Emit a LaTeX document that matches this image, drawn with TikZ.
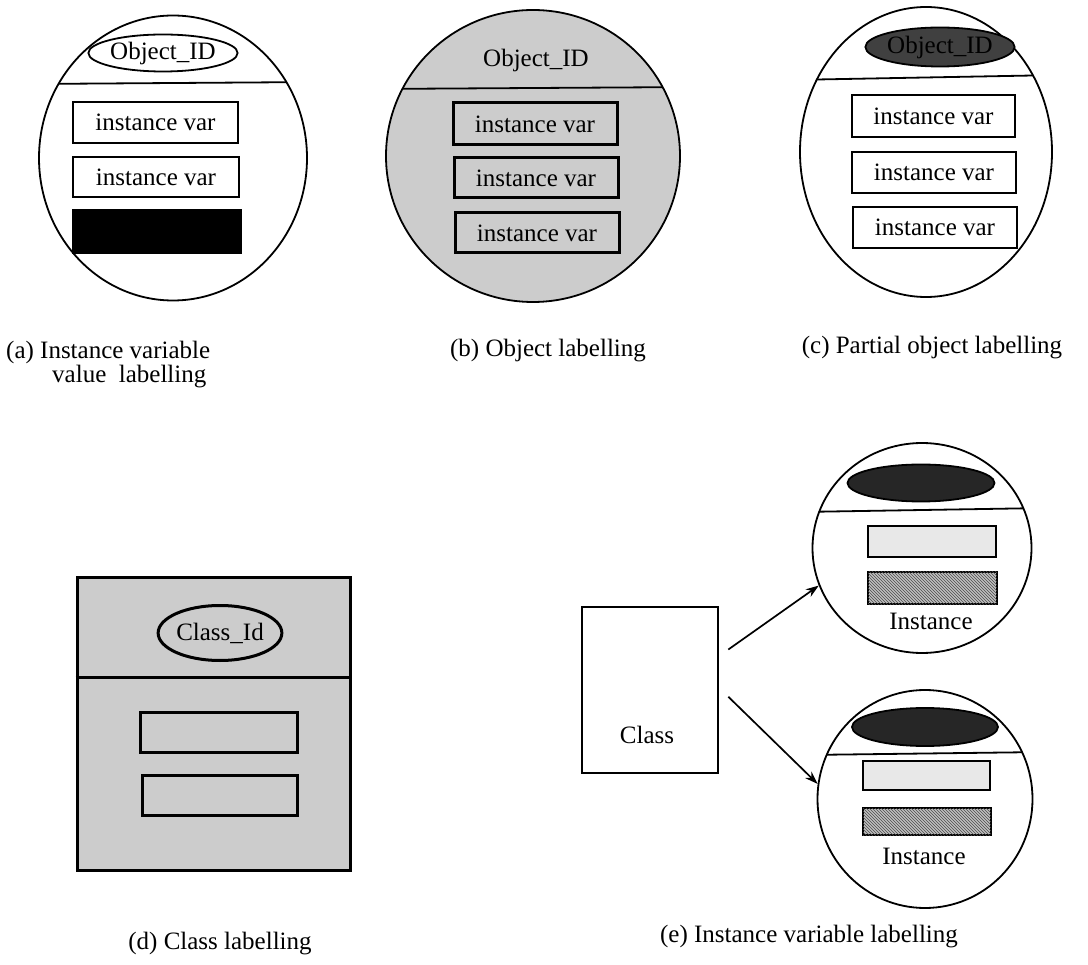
\documentclass[tikz,border=0pt]{standalone}
\usepackage{fontspec}
\setmainfont{Liberation Serif}
\usetikzlibrary{shapes.geometric,arrows.meta,patterns,calc}
\begin{document}
\begin{tikzpicture}[x=1pt,y=-1pt,
  txt/.style={font=\fontsize{25}{28}\selectfont},
  captext/.style={txt, inner sep=0pt},
  disc/.style={ellipse, draw, line width=1.8pt, inner sep=0pt},
  oid/.style={ellipse, draw, line width=1.8pt, inner sep=0pt, txt},
  varbox/.style={rectangle, draw, line width=1.8pt, inner sep=0pt, txt},
  heavybox/.style={rectangle, draw, line width=3pt, inner sep=0pt, txt, fill=gray!40},
  stipple/.style={fill=gray!40},
  lightbar/.style={rectangle, draw, line width=2.4pt, inner sep=0pt, fill=gray!18},
  hatchbar/.style={rectangle, draw, line width=2.4pt, inner sep=0pt, fill=gray!50,
    postaction={pattern=north west lines, pattern color=black!70}},
  darkoid/.style={ellipse, draw, line width=1.8pt, inner sep=0pt, fill=black!85},
  chord/.style={line width=1.8pt},
  arr/.style={line width=1.7pt, -{Stealth[length=13pt,width=9pt]}}
]
\fill[white] (0,0) rectangle (1088,965);
\useasboundingbox (0,0) rectangle (1088,965);

% ---------- (a) instance variable value labelling ----------
\node[disc, minimum width=268pt, minimum height=285pt] (objA) at (173,158) {};
\begin{scope}
  \clip (173,158) ellipse [x radius=134pt, y radius=142.5pt];
  \draw[chord] (30,84) -- (320,82);
\end{scope}
\node[oid, minimum width=146pt, minimum height=37pt] (idA) at (163,53) {Object\_ID};
\node[varbox, minimum width=165pt, minimum height=41pt] (a1) at (155.5,122.5) {instance var};
\node[varbox, minimum width=166pt, minimum height=40pt] (a2) at (156,177) {instance var};
\node[rectangle, draw, fill=black, line width=1.8pt, minimum width=168pt, minimum height=43pt] (a3) at (157,231.5) {};
\node[captext, anchor=west] (capA1) at (6,352) {(a) Instance variable};
\node[captext, anchor=west] (capA2) at (52,377) {value\ \ labelling};

% ---------- (b) object labelling ----------
\node[disc, stipple, minimum width=294pt, minimum height=292pt] (objB) at (533,156) {};
\begin{scope}
  \clip (533,156) ellipse [x radius=147pt, y radius=146pt];
  \draw[chord] (370,89) -- (700,87);
\end{scope}
\node[txt, inner sep=0pt] (idB) at (536,60) {Object\_ID};
\node[heavybox, minimum width=164pt, minimum height=42pt] (b1) at (535,124) {instance var};
\node[heavybox, minimum width=164pt, minimum height=40pt] (b2) at (536,178) {instance var};
\node[heavybox, minimum width=164pt, minimum height=40pt] (b3) at (537,233) {instance var};
\node[captext] (capB) at (548,351) {(b) Object labelling};

% ---------- (c) partial object labelling ----------
\node[disc, minimum width=252pt, minimum height=290pt] (objC) at (926,152) {};
\begin{scope}
  \clip (926,152) ellipse [x radius=126pt, y radius=145pt];
  \draw[chord] (790,80) -- (1060,75);
\end{scope}
\node[oid, fill=black!75, minimum width=144pt, minimum height=39pt] (idC) at (940,47) {Object\_ID};
\node[varbox, minimum width=163pt, minimum height=42pt] (c1) at (933.5,116) {instance var};
\node[varbox, minimum width=164pt, minimum height=41pt] (c2) at (934,172.5) {instance var};
\node[varbox, minimum width=164pt, minimum height=41pt] (c3) at (935,227.5) {instance var};
\node[captext] (capC) at (932,348) {(c) Partial object labelling};

% ---------- (d) class labelling ----------
\node[rectangle, draw, stipple, line width=3pt, minimum width=273pt, minimum height=292pt] (clsD) at (213.5,724) {};
\draw[line width=3pt] (clsD.west |- 0,677) -- (clsD.east |- 0,677);
\node[oid, line width=3pt, minimum width=110pt, minimum height=55pt] (idD) at (220,633) {Class\_Id};
\node[heavybox, minimum width=157pt, minimum height=40pt] (d1) at (218.5,732) {};
\node[heavybox, minimum width=155pt, minimum height=40pt] (d2) at (219.5,795) {};
\node[captext] (capD) at (220,944) {(d) Class labelling};

% ---------- (e) instance variable labelling ----------
\node[rectangle, draw, line width=2.6pt, minimum width=136pt, minimum height=166pt] (cls) at (650,690) {};
\node[txt, inner sep=0pt] (clsT) at (647,735) {Class};

\node[disc, minimum width=219pt, minimum height=210pt] (inst1) at (922,548) {};
\begin{scope}
  \clip (922,548) ellipse [x radius=109.5pt, y radius=105pt];
  \draw[chord] (800,512) -- (1045,508);
\end{scope}
\node[darkoid, minimum width=147pt, minimum height=37pt] (e1o) at (921,483) {};
\node[lightbar, minimum width=128pt, minimum height=31pt] (e1a) at (932,541.5) {};
\node[hatchbar, minimum width=129pt, minimum height=32pt] (e1b) at (932.5,588) {};
\node[txt, inner sep=0pt] (e1t) at (931,621) {Instance};

\node[disc, minimum width=215pt, minimum height=218pt] (inst2) at (925,799) {};
\begin{scope}
  \clip (925,799) ellipse [x radius=107.5pt, y radius=109pt];
  \draw[chord] (805,755) -- (1045,752);
\end{scope}
\node[darkoid, minimum width=146pt, minimum height=38pt] (e2o) at (925,727) {};
\node[lightbar, minimum width=127pt, minimum height=29pt] (e2a) at (926.5,775.5) {};
\node[hatchbar, minimum width=128pt, minimum height=27pt] (e2b) at (927,821.5) {};
\node[txt, inner sep=0pt] (e2t) at (924,856) {Instance};

\coordinate (s1) at ($(cls.north east)!0.26!(cls.south east)+(9,0)$);
\coordinate (s2) at ($(cls.north east)!0.54!(cls.south east)+(9,0)$);
\draw[arr] (s1) -- (inst1.200);
\draw[arr] (s2) -- (inst2.172);
\node[captext] (capE) at (809,937) {(e) Instance variable labelling};
\end{tikzpicture}
\end{document}
